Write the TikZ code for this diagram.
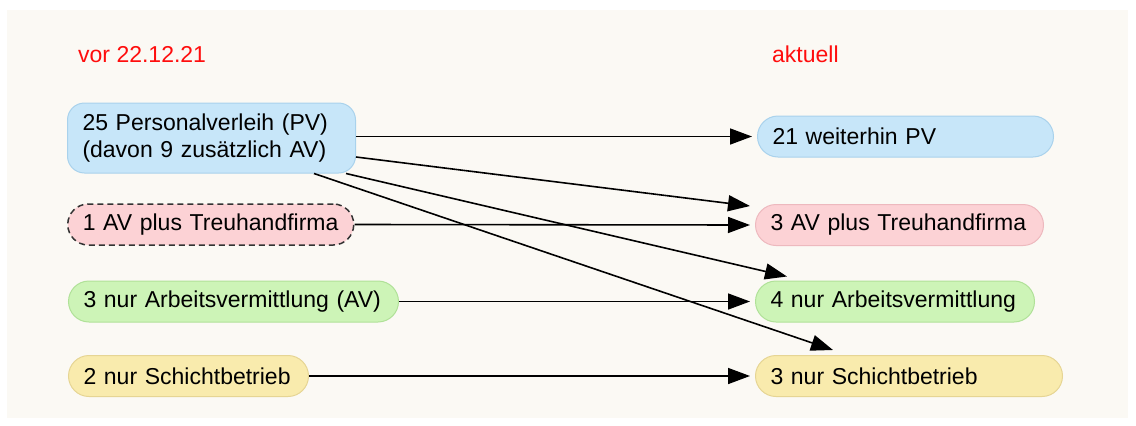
\documentclass[tikz,border=0pt]{standalone}
\usepackage{fontspec}
\setmainfont{Liberation Sans}
\usetikzlibrary{arrows.meta,positioning}

\definecolor{paper}{HTML}{FBF9F4}
\definecolor{pvfill}{HTML}{C7E6F9}
\definecolor{pvline}{HTML}{A9D2EC}
\definecolor{avfill}{HTML}{FCD2D5}
\definecolor{avline}{HTML}{EDB9BE}
\definecolor{anfill}{HTML}{CDF4B7}
\definecolor{anline}{HTML}{B0E198}
\definecolor{scfill}{HTML}{F9EBAD}
\definecolor{scline}{HTML}{E6D594}
\definecolor{headred}{HTML}{FF0D0D}

\tikzset{
  x=1pt, y=-1pt,
  box/.style={draw, line width=1pt, inner xsep=15pt, inner ysep=0pt,
    minimum height=41pt, rounded corners=20.5pt, align=left,
    font=\fontsize{23}{27}\selectfont, anchor=west},
  pvbox/.style={box, fill=pvfill, draw=pvline},
  avbox/.style={box, fill=avfill, draw=avline},
  anbox/.style={box, fill=anfill, draw=anline},
  scbox/.style={box, fill=scfill, draw=scline},
  head/.style={text=headred, font=\fontsize{23}{27}\selectfont, anchor=base west, inner sep=0pt},
  flow/.style={line width=1.6pt, -{Triangle[length=22pt,width=16pt]}},
}

\begin{document}
\begin{tikzpicture}
% page and paper
\fill[white] (0,0) rectangle (1136,426);
\fill[paper] (7,10) rectangle (1128,418);
\useasboundingbox (0,0) rectangle (1136,426);

% column headings
\node[head] (hleft) at (78,62) {vor 22.12.21};
\node[head] (hright) at (772,62) {aktuell};

% before
\node[pvbox, text width=258pt, minimum height=70pt, rounded corners=17pt] (L1) at (67,138)
  {25 Personalverleih (PV)\\(davon 9 zusätzlich AV)};
\node[avbox, text width=256pt, draw=black!80, dashed, line width=1.5pt,
      dash pattern=on 6pt off 4pt] (L2) at (67,224.5) {1 AV plus Treuhandfirma};
\node[anbox, text width=300pt] (L3) at (68,301.5) {3 nur Arbeitsvermittlung (AV)};
\node[scbox, text width=210pt] (L4) at (68,376) {2 nur Schichtbetrieb};

% now
\node[pvbox, text width=266pt] (R1) at (757,136.5) {21 weiterhin PV};
\node[avbox, text width=258pt] (R2) at (755,225) {3 AV plus Treuhandfirma};
\node[anbox, text width=249pt] (R3) at (755,301.5) {4 nur Arbeitsvermittlung};
\node[scbox, text width=277pt] (R4) at (755,376) {3 nur Schichtbetrieb};

% transitions
\draw[flow] (L1.east |- R1.west) -- ([xshift=-5pt]R1.west);
\draw[flow] ([yshift=-19pt]L1.east) -- ([xshift=-5pt,yshift=-2pt]R2.north west);
\draw[flow] ([xshift=-10pt]L1.south east) -- ([xshift=32pt,yshift=4pt]R3.north west);
\draw[flow] ([xshift=-42pt]L1.south east) -- ([xshift=78pt,yshift=5pt]R4.north west);
\draw[flow] (L2.east) -- ([xshift=-5pt]R2.west);
\draw[flow] (L3.east) -- ([xshift=-5pt]R3.west);
\draw[flow] (L4.east) -- ([xshift=-5pt]R4.west);
\end{tikzpicture}
\end{document}
